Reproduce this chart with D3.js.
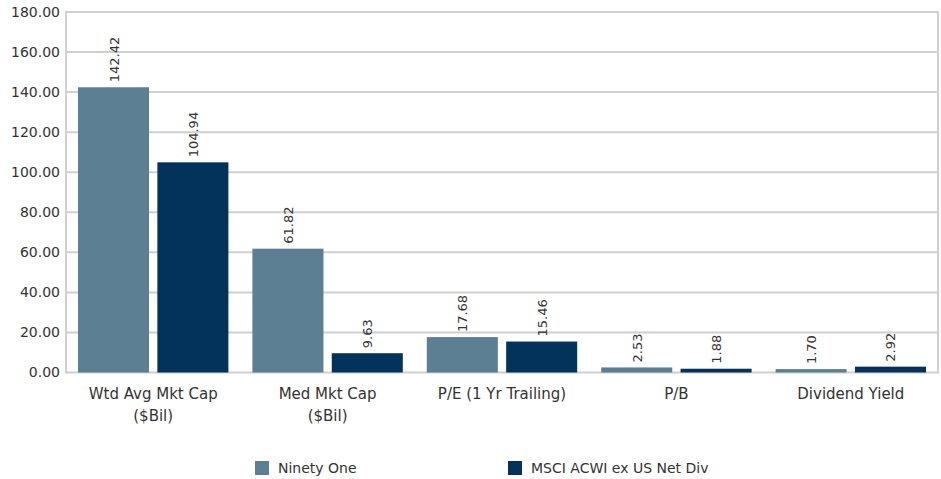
<!DOCTYPE html>
<html><head><meta charset="utf-8">
<script src="https://cdn.jsdelivr.net/npm/d3@7"></script>
<style>body{margin:0;background:#fff}svg{display:block}</style>
</head><body><svg id="c" width="941" height="479"></svg>
<script>
const categories = [["Wtd Avg Mkt Cap","($Bil)"],["Med Mkt Cap","($Bil)"],["P/E (1 Yr Trailing)"],["P/B"],["Dividend Yield"]];
const seriesNames = ["Ninety One","MSCI ACWI ex US Net Div"];
const ninetyOne = [142.42, 61.82, 17.68, 2.53, 1.70];
const msci = [104.94, 9.63, 15.46, 1.88, 2.92];
const yTicks = [0,20,40,60,80,100,120,140,160,180];
const colors = ["#5d7f93","#03325a"];

(function(){
const svg = d3.select("#c");
const font = "DejaVu Sans";
const pL = 66, pR = 938, pT = 12, pB = 372.5;
const x = d3.scaleBand().domain(d3.range(categories.length)).range([pL,pR]).paddingInner(0).paddingOuter(0);
const y = d3.scaleLinear().domain([0,180]).range([pB, pT]);
const inner = d3.scaleBand().domain([0,1]).range([12, x.bandwidth()-12]).paddingInner(0.105);

svg.append("g").selectAll("line").data(yTicks).join("line")
  .attr("x1", pL).attr("x2", pR)
  .attr("y1", d=>y(d)).attr("y2", d=>y(d))
  .attr("stroke", "#d0d0d0").attr("stroke-width", 2);
svg.append("line").attr("x1",pL).attr("x2",pL).attr("y1",y(180)-1).attr("y2",y(0)+1).attr("stroke","#d0d0d0").attr("stroke-width",2);
svg.append("line").attr("x1",pR).attr("x2",pR).attr("y1",y(180)-1).attr("y2",y(0)+1).attr("stroke","#d0d0d0").attr("stroke-width",2);

const yAxis = d3.axisLeft(y).tickValues(yTicks).tickFormat(d3.format(".2f")).tickSize(0).tickPadding(6);
const ya = svg.append("g").attr("transform",`translate(${pL},0)`).call(yAxis);
ya.select(".domain").remove();
ya.selectAll("text").attr("font-family",font).attr("font-size",14).attr("fill","#333");

const series = [ninetyOne, msci];
series.forEach((vals, si) => {
  const g = svg.append("g");
  g.selectAll("rect").data(vals).join("rect")
    .attr("x",(d,i)=>x(i)+inner(si)).attr("width",inner.bandwidth())
    .attr("y",d=>y(d)).attr("height",d=>y(0)-y(d))
    .attr("fill",colors[si]);
  g.selectAll("text").data(vals).join("text")
    .attr("transform",(d,i)=>`translate(${x(i)+inner(si)+inner.bandwidth()/2+5},${y(d)-5}) rotate(-90)`)
    .attr("font-family",font).attr("font-size",13).attr("fill","#333")
    .text(d=>d3.format(".2f")(d));
});

const xl = svg.append("g");
categories.forEach((lines,i)=>{
  const t = xl.append("text").attr("x", x(i)+x.bandwidth()/2).attr("y",399)
    .attr("text-anchor","middle").attr("font-family",font).attr("font-size",15).attr("fill","#333");
  lines.forEach((l,k)=>t.append("tspan").attr("x",x(i)+x.bandwidth()/2).attr("dy",k?22:0).text(l));
});

const legX = [255, 508];
seriesNames.forEach((n,i)=>{
  svg.append("rect").attr("x",legX[i]).attr("y",461).attr("width",14).attr("height",14).attr("fill",colors[i]);
  svg.append("text").attr("x",legX[i]+23).attr("y",473).attr("font-family",font).attr("font-size",14).attr("fill","#333").text(n);
});
})();
</script></body></html>
